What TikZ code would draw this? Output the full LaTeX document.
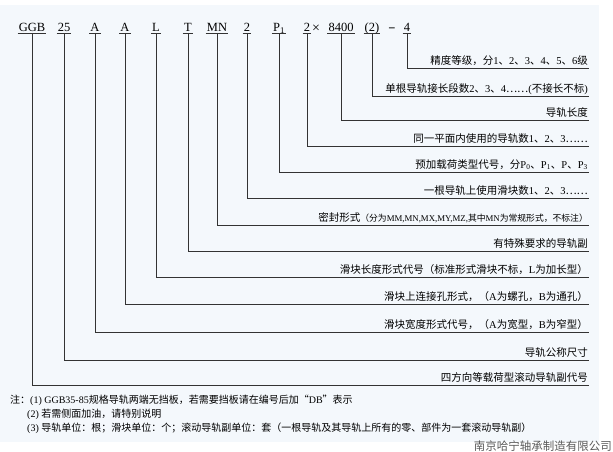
\documentclass[tikz,border=0pt]{standalone}
\usepackage{fontspec}
\setmainfont{Liberation Serif}
\newfontfamily\cjk{Noto Sans CJK SC}
\newcommand\zh[1]{{\cjk #1}}
\definecolor{bgblue}{HTML}{F4F8FC}
\definecolor{ln}{HTML}{333333}
\definecolor{wm}{HTML}{5A5A5A}
\begin{document}
\begin{tikzpicture}[x=1pt,y=-1pt,
  code/.style={anchor=south,inner ysep=0pt,inner xsep=1pt,text depth=1.5pt,font=\fontsize{12.5}{14}\selectfont},
  sym/.style={anchor=base,inner sep=0pt,font=\fontsize{12.5}{14}\selectfont},
  lab/.style={anchor=base east,inner sep=0pt,font=\fontsize{10.5}{12}\selectfont},
  conn/.style={draw=ln,line width=0.8pt},
  note/.style={anchor=base west,inner sep=0pt,font=\fontsize{10}{12}\selectfont}]
\useasboundingbox (0,0) rectangle (613,451);
\fill[white] (0,0) rectangle (613,451);
\fill[bgblue] (0,5) rectangle (599,442);
% codes
\node[code] (c1) at (32,33.5) {GGB};
\node[code] (c2) at (64,33.5) {25};
\node[code] (c3) at (95,33.5) {A};
\node[code] (c4) at (125,33.5) {A};
\node[code] (c5) at (156,33.5) {L};
\node[code] (c6) at (188,33.5) {T};
\node[code] (c7) at (217,33.5) {MN};
\node[code] (c8) at (247,33.5) {2};
\node[code] (c9) at (279,33.5) {P\textsubscript{1}};
\node[code] (c10) at (307,33.5) {2};
\node[sym,font=\fontsize{14}{14}\selectfont] (x1) at (316,32) {×};
\node[code] (c11) at (341,33.5) {8400};
\node[code] (c12) at (372,33.5) {(2)};
\node[sym] (m1) at (392,32) {\textbf{−}};
\node[code] (c13) at (407,33.5) {4};
\foreach \i in {1,...,13}{\draw[conn] (c\i.south west) -- (c\i.south east);}
% end coordinates
\coordinate (e1) at (589,385);
\coordinate (e2) at (589,360);
\coordinate (e3) at (589,332);
\coordinate (e4) at (589,304);
\coordinate (e5) at (589,277);
\coordinate (e6) at (589,251);
\coordinate (e7) at (589,225);
\coordinate (e8) at (589,198);
\coordinate (e9) at (589,172);
\coordinate (e10) at (589,146);
\coordinate (e11) at (589,120);
\coordinate (e12) at (589,96);
\coordinate (e13) at (589,68);
\foreach \i in {1,...,13}{\draw[conn] (c\i.south) |- (e\i);}
% labels
\node[lab] (l1) at ([xshift=-1pt,yshift=4pt]e1) {\zh{四方向等载荷型滚动导轨副代号}};
\node[lab] (l2) at ([xshift=-1pt,yshift=4pt]e2) {\zh{导轨公称尺寸}};
\node[lab] (l3) at ([xshift=-1pt,yshift=4pt]e3) {\zh{滑块宽度形式代号，（}A\zh{为宽型，}B\zh{为窄型）}};
\node[lab] (l4) at ([xshift=-1pt,yshift=4pt]e4) {\zh{滑块上连接孔形式，（}A\zh{为螺孔，}B\zh{为通孔）}};
\node[lab] (l5) at ([xshift=-1pt,yshift=4pt]e5) {\zh{滑块长度形式代号（标准形式滑块不标，}L\zh{为加长型）}};
\node[lab] (l6) at ([xshift=-1pt,yshift=4pt]e6) {\zh{有特殊要求的导轨副}};
\node[lab] (l7) at ([xshift=-1pt,yshift=4pt]e7) {\zh{密封形式}{\fontsize{8.8}{10}\selectfont\zh{（分为}MM,MN,MX,MY,MZ,\zh{其中}MN\zh{为常规形式，不标注）}}};
\node[lab] (l8) at ([xshift=-1pt,yshift=4pt]e8) {\zh{一根导轨上使用滑块数}1\zh{、}2\zh{、}3\zh{……}};
\node[lab] (l9) at ([xshift=-1pt,yshift=4pt]e9) {\zh{预加载荷类型代号，分}P\textsubscript{0}\zh{、}P\textsubscript{1}\zh{、}P\zh{、}P\textsubscript{3}};
\node[lab] (l10) at ([xshift=-1pt,yshift=4pt]e10) {\zh{同一平面内使用的导轨数}1\zh{、}2\zh{、}3\zh{……}};
\node[lab] (l11) at ([xshift=-1pt,yshift=4pt]e11) {\zh{导轨长度}};
\node[lab] (l12) at ([xshift=-1pt,yshift=4pt]e12) {\zh{单根导轨接长段数}2\zh{、}3\zh{、}4\zh{……}(\zh{不接长不标})};
\node[lab] (l13) at ([xshift=-1pt,yshift=4pt]e13) {\zh{精度等级，分}1\zh{、}2\zh{、}3\zh{、}4\zh{、}5\zh{、}6\zh{级}};
% notes
\node[note] (n1) at (10,403.5) {\zh{注：}(1) GGB35-85\zh{规格导轨两端无挡板，若需要挡板请在编号后加“}DB\zh{”表示}};
\node[note] (n2) at (27,417.5) {(2) \zh{若需侧面加油，请特别说明}};
\node[note] (n3) at (27,431.5) {(3) \zh{导轨单位：根；滑块单位：个；滚动导轨副单位：套（一根导轨及其导轨上所有的零、部件为一套滚动导轨副）}};
% watermark
\node[anchor=east,inner sep=0pt,text=wm,font=\cjk\fontsize{11.5}{12}\selectfont] (wm) at (612,446.5) {南京哈宁轴承制造有限公司};
\end{tikzpicture}
\end{document}
